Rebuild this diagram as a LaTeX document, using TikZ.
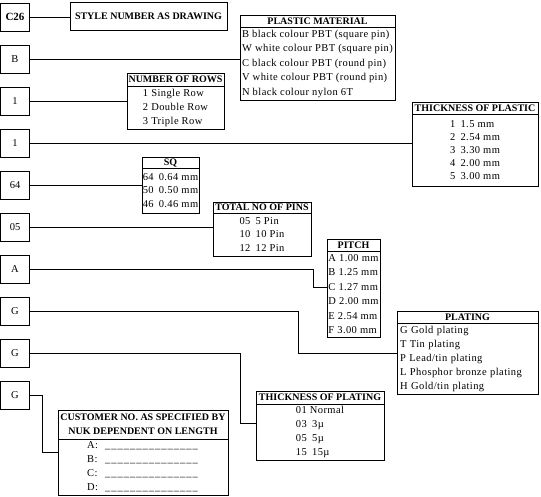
\documentclass[tikz,border=0pt]{standalone}
\usepackage{fontspec}
\setmainfont{Liberation Serif}
\newfontfamily\listfont[LetterSpace=4]{Liberation Serif}
\usetikzlibrary{positioning, calc}
\newcommand{\blanks}{\foreach \i in {1,...,15}{\_\kern1pt}}

\begin{document}
\begin{tikzpicture}[x=1pt, y=-1pt, line width=0.8pt,
  keybox/.style={draw, minimum width=29pt, minimum height=28pt, inner sep=0pt, outer sep=0pt,
    font=\fontsize{10.5}{12}\selectfont},
  headbox/.style 2 args={draw, anchor=north west, minimum width=#1, minimum height=#2,
    inner sep=0pt, outer sep=0pt, align=center, font=\bfseries\fontsize{10}{14}\selectfont},
  listbox/.style n args={3}{draw, below=0pt of #1, minimum width=#2, minimum height=#3,
    inner sep=0pt, outer sep=0pt, align=left},
  rowskip/.style={font=\listfont\fontsize{10.5}{#1}\selectfont}]

  \useasboundingbox (0,0) rectangle (541,496);

  % Code letters on the left
  \node[keybox, font=\bfseries\fontsize{11}{12}\selectfont] (kc) at (15,17) {C26};
  \node[keybox, below=14pt of kc] (kb) {B};
  \node[keybox, below=14pt of kb] (kr) {1};
  \node[keybox, below=14pt of kr] (kt) {1};
  \node[keybox, below=14pt of kt] (ks) {64};
  \node[keybox, below=14pt of ks] (kn) {05};
  \node[keybox, below=14pt of kn] (ka) {A};
  \node[keybox, below=14pt of ka] (kg) {G};
  \node[keybox, below=14pt of kg] (kp) {G};
  \node[keybox, below=14pt of kp] (kd) {G};

  % Tables
  \node[headbox={157pt}{28pt}] (style) at (70,2) {STYLE NUMBER AS DRAWING};

  \node[headbox={155pt}{12pt}] (pmat) at (240,15) {PLASTIC MATERIAL};
  \node[listbox={pmat}{155pt}{73pt}, rowskip=14.5pt] (pmatlist) {B black colour PBT (square pin)\\
    W white colour PBT (square pin)\\C black colour PBT (round pin)\\
    V white colour PBT (round pin)\\N black colour nylon 6T};

  \node[headbox={97pt}{13pt}] (nrows) at (127,73) {NUMBER OF ROWS};
  \node[listbox={nrows}{97pt}{43pt}, rowskip=14pt] (nrowslist) {1 Single Row\\2 Double Row\\3 Triple Row};

  \node[headbox={126pt}{12pt}] (tplas) at (412,102) {THICKNESS OF PLASTIC};
  \node[listbox={tplas}{126pt}{72pt}, rowskip=13pt] (tplaslist) {1\enspace 1.5 mm\\2\enspace 2.54 mm\\
    3\enspace 3.30 mm\\4\enspace 2.00 mm\\5\enspace 3.00 mm};

  \node[headbox={57pt}{11pt}] (sq) at (142,157) {SQ};
  \node[listbox={sq}{57pt}{45pt}, rowskip=13.5pt] (sqlist) {64\kern2pt{} 0.64 mm\\50\kern2pt{} 0.50 mm\\46\kern2pt{} 0.46 mm};

  \node[headbox={98pt}{11pt}] (npins) at (213,202) {TOTAL NO OF PINS};
  \node[listbox={npins}{98pt}{43pt}, rowskip=13.5pt] (npinslist) {05\enspace 5 Pin\\10\enspace 10 Pin\\12\enspace 12 Pin};

  \node[headbox={53pt}{12pt}] (pitch) at (327,239) {PITCH};
  \node[listbox={pitch}{53pt}{86pt}, rowskip=14.5pt] (pitchlist) {A 1.00 mm\\B 1.25 mm\\C 1.27 mm\\
    D 2.00 mm\\E 2.54 mm\\F 3.00 mm};

  \node[headbox={141pt}{12pt}] (plat) at (397,311) {PLATING};
  \node[listbox={plat}{141pt}{71pt}, rowskip=14pt, text width=135pt, inner xsep=3pt] (platlist) {G Gold plating\\
    T Tin plating\\P Lead/tin plating\\L Phosphor bronze plating\\H Gold/tin plating};

  \node[headbox={128pt}{13pt}] (tplat) at (256,391) {THICKNESS OF PLATING};
  \node[listbox={tplat}{128pt}{56pt}, rowskip=14pt] (tplatlist) {01 Normal\\03\enspace 3µ\\05\enspace 5µ\\15\enspace 15µ};

  \node[headbox={170pt}{29pt}] (cust) at (58,410) {CUSTOMER NO. AS SPECIFIED BY\\NUK DEPENDENT ON LENGTH};
  \node[listbox={cust}{170pt}{56pt}, rowskip=14pt] (custlist) {\makebox[18pt][l]{A:}\blanks\\
    \makebox[18pt][l]{B:}\blanks\\\makebox[18pt][l]{C:}\blanks\\\makebox[18pt][l]{D:}\blanks};

  % Connectors
  \coordinate (aknee) at (313,287);
  \coordinate (gknee) at (298,353);
  \coordinate (pknee) at (240,423);
  \coordinate (dknee) at (42,452);

  \draw (kc.east) -- (kc.east -| style.west);
  \draw (kb.east) -- (kb.east -| pmatlist.west);
  \draw (kr.east) -- (kr.east -| nrowslist.west);
  \draw (kt.east) -- (kt.east -| tplaslist.west);
  \draw (ks.east) -- (ks.east -| sqlist.west);
  \draw (kn.east) -- (kn.east -| npinslist.west);
  \draw (ka.east) -| (aknee) -- (aknee -| pitchlist.west);
  \draw (kg.east) -| (gknee) -- (gknee -| platlist.west);
  \draw (kp.east) -| (pknee) -- (pknee -| tplatlist.west);
  \draw (kd.east) -| (dknee) -- (dknee -| custlist.west);
\end{tikzpicture}
\end{document}
